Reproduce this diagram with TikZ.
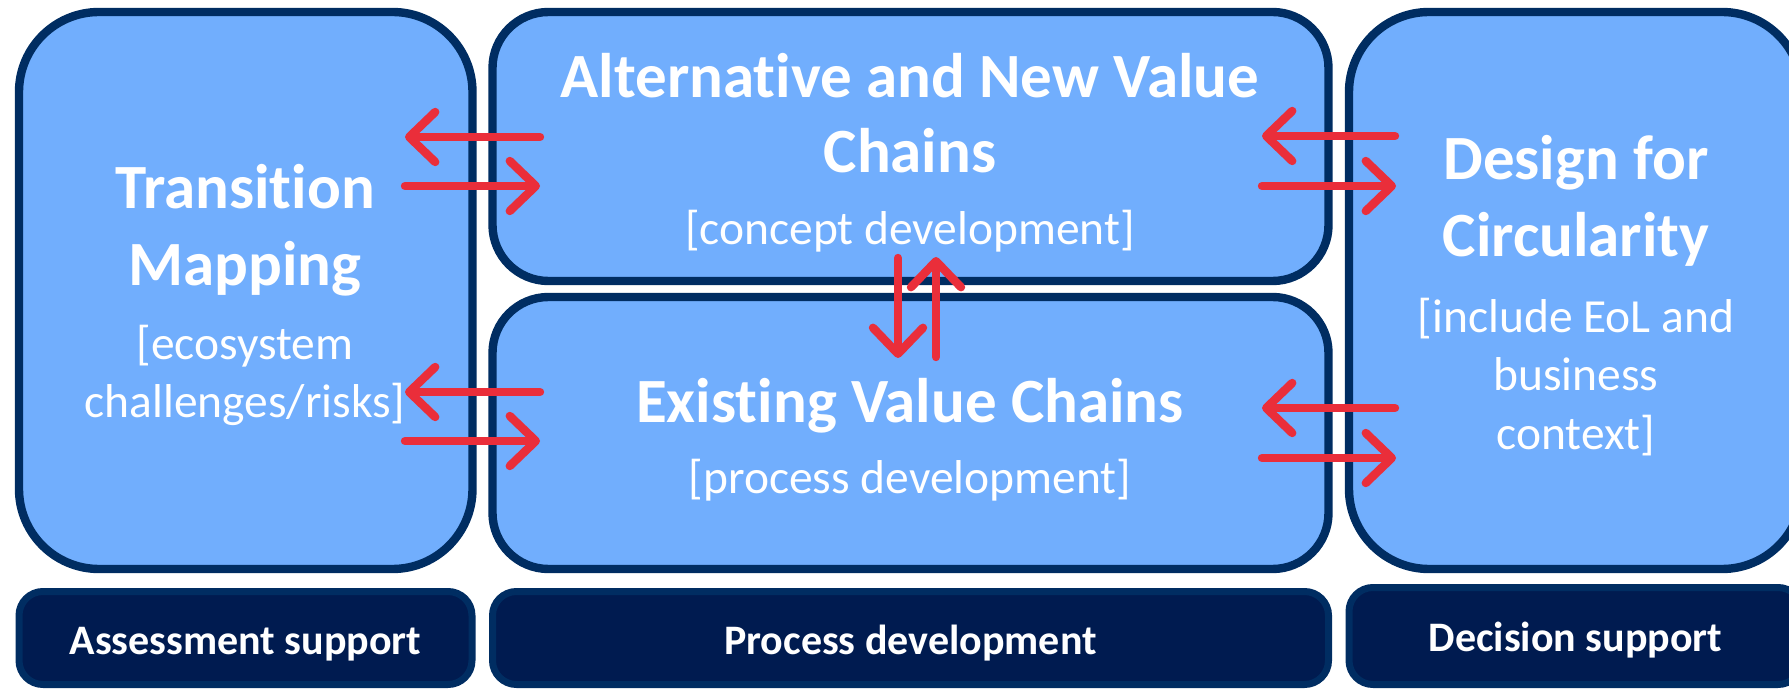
\documentclass[tikz,border=0pt]{standalone}
\usepackage{fontspec}
\setmainfont{Carlito}[Ligatures=NoCommon]
\usetikzlibrary{arrows.meta}
\definecolor{boxfill}{RGB}{113,174,253}
\definecolor{boxline}{RGB}{0,45,98}
\definecolor{labfill}{RGB}{0,27,80}
\definecolor{labline}{RGB}{0,45,98}
\definecolor{arrred}{RGB}{234,46,58}
\begin{document}
\begin{tikzpicture}[x=0.5pt,y=-0.5pt,
 bigbox/.style={draw=boxline, fill=boxfill, line width=4.2pt, inner sep=0pt},
 labbox/.style={draw=labline, fill=labfill, line width=3.5pt, rounded corners=12pt, inner sep=0pt},
 ttl/.style={anchor=base, text=white, font=\fontsize{31.5}{38}\selectfont\bfseries, inner sep=0pt},
 sub/.style={anchor=base, text=white, font=\fontsize{23.75}{28}\selectfont, inner sep=0pt},
 labtxt/.style={anchor=base, text=white, font=\fontsize{21}{25}\selectfont\bfseries, inner sep=0pt},
 rarr/.style={draw=arrred, line width=4.2pt, line cap=round, -{Straight Barb[length=13pt,width=25pt,line cap=round,line join=round]}}]
\useasboundingbox (0,0) rectangle (1789,689);
\clip (0,0) rectangle (1789,689);
% big boxes
\node[bigbox, rounded corners=40pt, minimum width=226.75pt, minimum height=278.5pt] (L) at (245.75,290.5) {};
\node[bigbox, rounded corners=28pt, minimum width=418pt, minimum height=134.5pt] (MT) at (910.5,146.5) {};
\node[bigbox, rounded corners=28pt, minimum width=418pt, minimum height=136pt] (MB) at (910.5,433) {};
\node[bigbox, rounded corners=40pt, minimum width=226.5pt, minimum height=278.5pt] (R) at (1575.5,290.5) {};
% label boxes
\node[labbox, minimum width=226.5pt, minimum height=46.5pt] (LL) at (245.5,638) {};
\node[labbox, minimum width=418pt, minimum height=46.5pt] (ML) at (910.5,638) {};
\node[labbox, minimum width=226.5pt, minimum height=48.5pt] (RL) at (1575.5,636) {};
% texts
\node[ttl] (t1a) at (245,209) {Transition};
\node[ttl] (t1b) at (245,286) {Mapping};
\node[sub] (s1a) at (245,360) {[ecosystem};
\node[sub] (s1b) at (245,418) {challenges/risks]};
\node[ttl] (t2a) at (910,98) {Alternative and New Value};
\node[ttl] (t2b) at (910,173) {Chains};
\node[sub] (s2a) at (910,245) {[concept development]};
\node[ttl] (t3a) at (910,423) {Existing Value Chains};
\node[sub] (s3a) at (910,494) {[process development]};
\node[ttl] (t4a) at (1576,180) {Design for};
\node[ttl] (t4b) at (1576,257) {Circularity};
\node[sub] (s4a) at (1576,333) {[include EoL and};
\node[sub] (s4b) at (1576,391) {business};
\node[sub] (s4c) at (1576,450) {context]};
\node[labtxt] (l1) at (245.5,654) {Assessment support};
\node[labtxt] (l2) at (910.5,654) {Process development};
\node[labtxt] (l3) at (1575.5,651) {Decision support};
% arrow end points
\coordinate (a1w) at (405,137); \coordinate (a1e) at (540,137);
\coordinate (a2w) at (405,186); \coordinate (a2e) at (540,186);
\coordinate (a3w) at (405,392); \coordinate (a3e) at (540,392);
\coordinate (a4w) at (405,441); \coordinate (a4e) at (540,441);
\coordinate (b1w) at (1262,136); \coordinate (b1e) at (1395,136);
\coordinate (b2w) at (1262,186); \coordinate (b2e) at (1396,186);
\coordinate (b3w) at (1262,408); \coordinate (b3e) at (1395,408);
\coordinate (b4w) at (1262,458); \coordinate (b4e) at (1396,458);
\coordinate (v1t) at (898,258); \coordinate (v1b) at (898,358);
\coordinate (v2t) at (936,257); \coordinate (v2b) at (936,357);
% arrows
\draw[rarr] (a1e) -- (a1w);
\draw[rarr] (a2w) -- (a2e);
\draw[rarr] (a3e) -- (a3w);
\draw[rarr] (a4w) -- (a4e);
\draw[rarr] (b1e) -- (b1w);
\draw[rarr] (b2w) -- (b2e);
\draw[rarr] (b3e) -- (b3w);
\draw[rarr] (b4w) -- (b4e);
\draw[rarr] (v1t) -- (v1b);
\draw[rarr] (v2b) -- (v2t);
\end{tikzpicture}
\end{document}
